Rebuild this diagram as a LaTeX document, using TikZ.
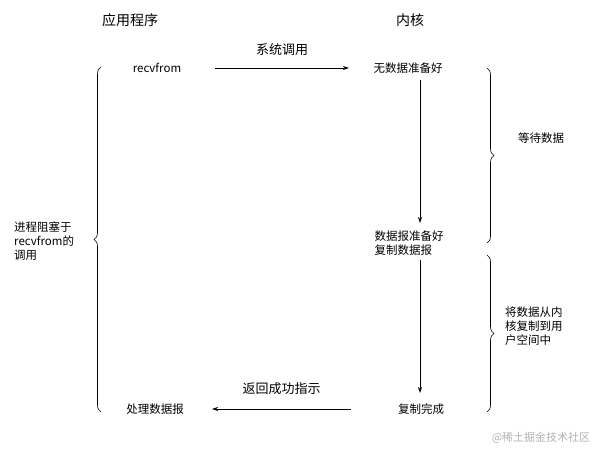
\documentclass[tikz,border=0pt]{standalone}
\usepackage{fontspec}
\setmainfont{Noto Sans CJK SC}
\usetikzlibrary{decorations.pathreplacing,arrows.meta}
\begin{document}
\begin{tikzpicture}[x=1pt,y=1pt,
  lbl/.style={font=\fontsize{11.5}{14}\selectfont,inner sep=0pt},
  albl/.style={font=\fontsize{13}{15}\selectfont,inner sep=0pt},
  hdr/.style={font=\fontsize{14}{16}\selectfont,inner sep=0pt},
  arr/.style={-{Stealth[length=6pt,width=4pt]},line width=0.8pt},
  brc/.style={decorate,decoration={brace,amplitude=7pt},line width=0.6pt}]
\useasboundingbox (0,0) rectangle (613,458);
\node[hdr] (app) at (130,438) {应用程序};
\node[hdr] (ker) at (410,438) {内核};
\node[lbl] (recv) at (157,390) {recvfrom};
\node[lbl] (nodata) at (408,390) {无数据准备好};
\node[lbl,align=left] (ready) at (409,215) {数据报准备好\\复制数据报};
\node[lbl] (done) at (421,49) {复制完成};
\node[lbl] (proc) at (155,49) {处理数据报};
\coordinate (a1) at (215,390); \coordinate (a2) at (349,390);
\draw[arr] (a1) -- node[albl,above=12pt] (sys) {系统调用} (a2);
\coordinate (d1) at (420,378); \coordinate (d2) at (420,235);
\draw[arr] (d1) -- (d2);
\coordinate (d3) at (420,198); \coordinate (d4) at (420,65);
\draw[arr] (d3) -- (d4);
\coordinate (b1) at (351,49); \coordinate (b2) at (212,49);
\draw[arr] (b1) -- node[albl,above=14pt] (ret) {返回成功指示} (b2);
\coordinate (L1) at (101,46); \coordinate (L2) at (101,391);
\draw[brc] (L1) -- (L2);
\node[lbl,align=left,anchor=west] (blk) at (14,217) {进程阻塞于\\recvfrom的\\调用};
\coordinate (R1) at (487,390); \coordinate (R2) at (487,215);
\draw[brc] (R1) -- (R2);
\node[lbl,anchor=west] (wait) at (518,320) {等待数据};
\coordinate (R3) at (487,203); \coordinate (R4) at (487,46);
\draw[brc] (R3) -- (R4);
\node[lbl,align=left,anchor=west] (copy) at (505,132) {将数据从内\\核复制到用\\户空间中};
\node[font=\fontsize{11}{13}\selectfont,text=gray!60,inner sep=0pt] (wm) at (541,20) {@稀土掘金技术社区};
\end{tikzpicture}
\end{document}
